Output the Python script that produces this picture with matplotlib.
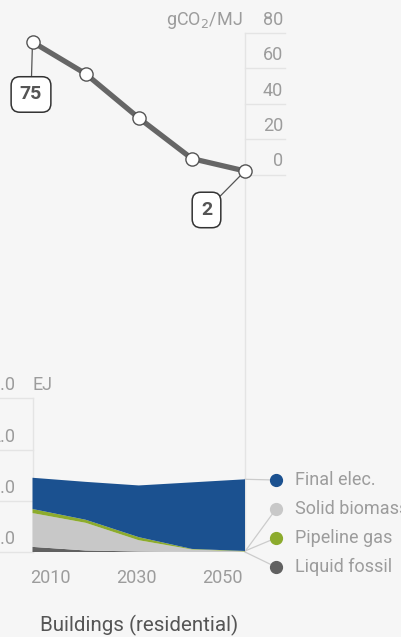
import numpy as np
import matplotlib
matplotlib.use('Agg')
import matplotlib.pyplot as plt

# Carbon intensity of delivered energy, gCO2/MJ
years = [2010, 2020, 2030, 2040, 2050]
intensity = [75, 57, 32, 9, 2]

# Final energy by carrier, EJ (stacked bottom to top)
liquid_fossil = [0.10, 0.03, 0.01, 0.00, 0.00]
solid_biomass = [0.66, 0.54, 0.22, 0.05, 0.01]
pipeline_gas = [0.08, 0.06, 0.06, 0.01, 0.01]
final_elec = [0.61, 0.74, 1.01, 1.30, 1.40]

carrier_names = ['Liquid fossil', 'Pipeline gas', 'Solid biomass', 'Final elec.']
carrier_colors = ['#616161', '#8cab2d', '#c8c8c8', '#1b5190']

intensity_ticks = [0, 20, 40, 60, 80]
energy_ticks = [0, 1, 2, 3]
year_labels = [2010, 2030, 2050]
title = 'Buildings (residential)'

W, H = 401, 637
BG = '#f6f6f6'
GRID = '#e4e4e4'
LABEL = '#9c9c9c'
FONT = ['Liberation Sans Narrow', 'Roboto', 'DejaVu Sans']

plt.rcParams['font.family'] = FONT
plt.rcParams['mathtext.fontset'] = 'custom'
plt.rcParams['mathtext.rm'] = FONT[0]

fig = plt.figure(figsize=(W / 100, H / 100), dpi=100, facecolor=BG)

# horizontal pixel scale shared by both panels
x0_px, px_per_year = 32.5, 5.3125


def panel(top_px, bot_px, zero_px, px_per_unit):
    ax = fig.add_axes([0, 1 - bot_px / H, 1, (bot_px - top_px) / H])
    ax.set_xlim(2010 - x0_px / px_per_year, 2010 + (W - x0_px) / px_per_year)
    ax.set_ylim((zero_px - bot_px) / px_per_unit, (zero_px - top_px) / px_per_unit)
    ax.set_facecolor(BG)
    ax.axis('off')
    return ax


def px_year(px):
    return 2010 + (px - x0_px) / px_per_year


# ---- top panel: intensity line ----
ax1 = panel(0, 300, 174.5, 1.767)
grid_x = [2050, px_year(285)]
for t in intensity_ticks:
    ax1.plot(grid_x, [t, t], color=GRID, lw=1, zorder=1)
    ax1.annotate(str(t), (px_year(283), t), xytext=(0, 8), textcoords='offset pixels',
                 ha='right', va='baseline', fontsize=13, color=LABEL)
ax1.annotate('gCO$_2$/MJ', (px_year(243), intensity_ticks[-1]), xytext=(0, 8),
             textcoords='offset pixels', ha='right', va='baseline', fontsize=13, color=LABEL)
ax1.plot([2050, 2050], [intensity_ticks[-1], -200], color=GRID, lw=1, zorder=1)

ax1.plot(years, intensity, color='#666666', lw=3.8, zorder=3, solid_capstyle='round',
         marker='o', ms=9.5, mfc='white', mec='#555555', mew=1.0)

box = dict(boxstyle='round,pad=0.45,rounding_size=0.45', fc='white', ec='#333333', lw=1.1)
for i, off in [(0, (-1.5, -52.5)), (-1, (-38.5, -39))]:
    ax1.annotate(str(intensity[i]), (years[i], intensity[i]), xytext=off,
                 textcoords='offset pixels', ha='center', va='center',
                 fontsize=14, fontweight='bold', color='#555555', bbox=box, zorder=2,
                 arrowprops=dict(arrowstyle='-', color='#555555', lw=0.9,
                                 shrinkA=0, shrinkB=5))

# ---- bottom panel: stacked final energy ----
ax2 = panel(300, H, 552, 51.2)
# gas is drawn above biomass in the stack
stack = [liquid_fossil, solid_biomass, pipeline_gas, final_elec]
stack_colors = [carrier_colors[0], carrier_colors[2], carrier_colors[1], carrier_colors[3]]
ax2.stackplot(years, *stack, colors=stack_colors, lw=0, zorder=2)

for t in energy_ticks:
    ax2.plot([px_year(0), 2010], [t, t], color=GRID, lw=1, zorder=1)
    ax2.annotate('%.1f' % t, (px_year(15), t), xytext=(0, 8), textcoords='offset pixels',
                 ha='right', va='baseline', fontsize=13, color=LABEL)
ax2.annotate('EJ', (2010, energy_ticks[-1]), xytext=(0, 8), textcoords='offset pixels',
             ha='left', va='baseline', fontsize=13, color=LABEL)
ax2.plot([2010, 2010], [0, energy_ticks[-1]], color=GRID, lw=1, zorder=1)
ax2.plot([2050, 2050], [0, 10], color=GRID, lw=1, zorder=1)

# x tick labels under the stack
for yr, ha in zip(year_labels, ['left', 'center', 'right']):
    ax2.annotate(str(yr), (yr, 0), xytext=(-2, -31), textcoords='offset pixels',
                 ha=ha, va='baseline', fontsize=13, color=LABEL)

# legend with leader lines from the 2050 edge
tops = np.cumsum([s[-1] for s in stack])
legend_order = [3, 1, 2, 0]  # final elec, biomass, gas, fossil (index into stack)
row_px = [480, 509, 538, 567]
for row, si in zip(row_px, legend_order):
    y_val = (552 - row) / 51.2
    x_dot = px_year(276)
    ax2.plot([2050, x_dot], [tops[si], y_val], color='#cccccc', lw=0.9, zorder=1)
    ax2.plot(x_dot, y_val, 'o', ms=8.5, color=stack_colors[si], zorder=3)
    name = carrier_names[carrier_colors.index(stack_colors[si])]
    ax2.annotate(name, (px_year(295), y_val), ha='left', va='center',
                 fontsize=13, color=LABEL)

fig.text(40 / W, 1 - 631 / H, title, ha='left', va='baseline', fontsize=14.8,
         color='#555555')

fig.savefig('out.png', dpi=100, facecolor=BG)
